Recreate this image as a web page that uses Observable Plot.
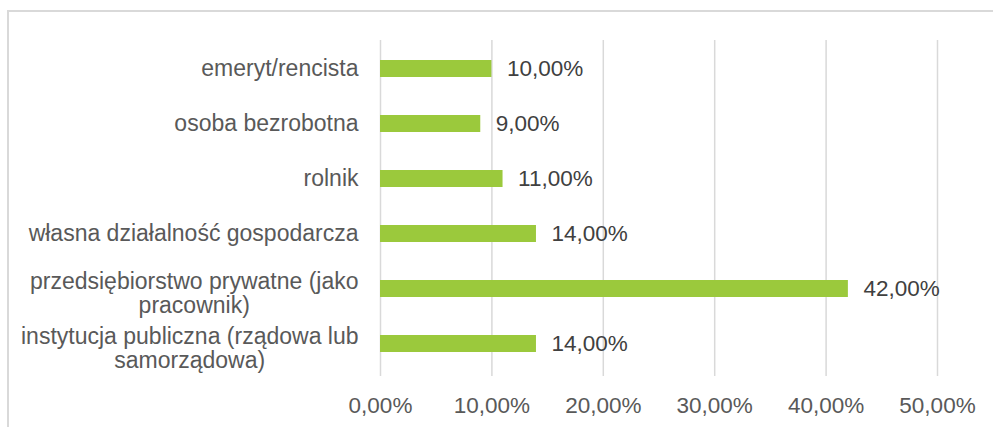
<!DOCTYPE html>
<html><head><meta charset="utf-8">
<script src="https://cdn.jsdelivr.net/npm/d3@7"></script>
<script src="https://cdn.jsdelivr.net/npm/@observablehq/plot@0.6"></script>
<style>
body{margin:0;background:#fff;}
#wrap{position:relative;width:993px;height:427px;overflow:hidden;}
#border{position:absolute;left:7px;top:10px;width:1100px;height:600px;border:2px solid #d9d9d9;box-sizing:border-box;}
#chart{position:absolute;left:0;top:0;}
</style></head>
<body><div id="wrap"><div id="border"></div><div id="chart"></div></div>
<script>
const categories = ["emeryt/rencista","osoba bezrobotna","rolnik","własna działalność gospodarcza","przedsiębiorstwo prywatne (jako\npracownik)","instytucja publiczna (rządowa lub\nsamorządowa)"];
const values = [0.10,0.09,0.11,0.14,0.42,0.14];
const xTicks = [0,0.1,0.2,0.3,0.4,0.5];

const data = categories.map((c,i)=>({cat:c, v:values[i]}));
const fmt = v => (v*100).toFixed(2).replace(".", ",") + "%";
const FONT = "Liberation Sans";
const FS = 23;

// measure widths to center multi-line labels like the original
const ctx = document.createElement("canvas").getContext("2d");
ctx.font = `${FS}px "${FONT}"`;
const labelRows = data.map(d => {
  const lines = d.cat.split("\n");
  const w = Math.max(...lines.map(l => ctx.measureText(l).width));
  return {...d, multi: lines.length > 1, w};
});

const plot = Plot.plot({
  width: 993, height: 427,
  marginLeft: 380, marginRight: 56, marginTop: 40, marginBottom: 55,
  style: {fontFamily: FONT, background: "transparent"},
  x: {domain: [0,0.5], ticks: xTicks},
  y: {domain: categories, paddingInner: 0.69, paddingOuter: 0.345, axis: null},
  marks: [
    Plot.gridX(xTicks, {stroke: "#d9d9d9", strokeOpacity: 1, strokeWidth: 1.5}),
    Plot.axisX(xTicks, {tickSize: 4, stroke: "#d9d9d9", strokeWidth: 1.5, tickFormat: fmt, fontSize: 22.5, fill: "#595959", tickPadding: 21, label: null}),
    Plot.barX(data, {x: "v", y: "cat", fill: "#9bc93c"}),
    Plot.text(data, {x: "v", y: "cat", text: d => fmt(d.v), textAnchor: "start", dx: 15, fontSize: 22.5, fill: "#404040"}),
    Plot.text(labelRows.filter(d=>!d.multi), {y: "cat", frameAnchor: "left", text: "cat", textAnchor: "end", dx: -22, fontSize: FS, fill: "#595959"}),
    ...labelRows.filter(d=>d.multi).map(d =>
      Plot.text([d], {y: "cat", frameAnchor: "left", text: "cat", textAnchor: "middle", dx: -22 - d.w/2, dy: 4, fontSize: FS, fill: "#595959", lineHeight: 1.07}))
  ]
});
document.getElementById("chart").appendChild(plot);
</script></body></html>
